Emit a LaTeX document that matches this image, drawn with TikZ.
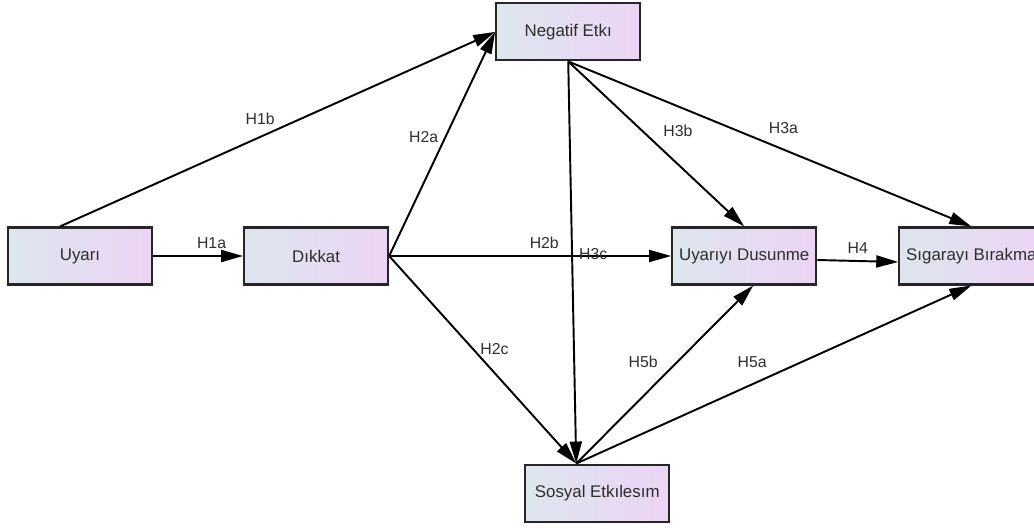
\documentclass[tikz,border=0pt]{standalone}
\usepackage{fontspec}
\setmainfont{Liberation Sans}
\usepackage{xcolor}
\usepackage{tikz}
\usetikzlibrary{arrows.meta, positioning, calc}

\definecolor{boxleft}{HTML}{DDE6EE}
\definecolor{boxright}{HTML}{ECD4F4}
\definecolor{boxtext}{HTML}{2E2E2E}

\begin{document}
\begin{tikzpicture}[node distance=1.8cm, auto, >={Triangle[length=4.4mm,width=2.4mm]}]
        \tikzstyle{var_style} = [rectangle, minimum width=2.88cm, minimum height=1.14cm, text centered, draw=black!85, line width=1.2pt, left color=boxleft, right color=boxright, text=boxtext, font=\fontsize{9.6}{11}\selectfont]
        \tikzstyle{path_arrow} = [line width=1.1pt, ->, draw=black]
        \tikzstyle{hyp_label} = [font=\fontsize{9}{10}\selectfont, text=boxtext, inner sep=3.5pt]

        % Canvas
        \useasboundingbox (0,0) rectangle (20.68,10.56);

        % Stimulus chain
        \node (uyari) [var_style] at (1.6,5.44) {Uyarı};
        \node (dikkat) [var_style, right=1.8cm of uyari] {Dıkkat};
        \node (uyariyi) [var_style, right=5.64cm of dikkat] {Uyarıyı Dusunme};
        \node (sigara) [var_style, right=1.62cm of uyariyi] {Sıgarayı Bırakma};

        % Mediators above and below
        \node (negatif) [var_style, above right=3.3cm and 2.12cm of dikkat] {Negatif Etkı};
        \node (sosyal) [var_style, below right=3.56cm and 2.7cm of dikkat] {Sosyal Etkılesım};

        % Connector end points
        \coordinate (uyari_top) at ([xshift=-0.4cm]uyari.north);
        \coordinate (sosyal_top) at ([xshift=-0.42cm]sosyal.north);

        % H1
        \draw [path_arrow] (uyari) -- node[hyp_label, pos=0.65, above] {H1a} (dikkat);
        \draw [path_arrow] (uyari_top) -- node[hyp_label, pos=0.46, above=3pt] {H1b} (negatif.west);

        % H2
        \draw [path_arrow] (dikkat.east) -- node[hyp_label, pos=0.53, left] {H2a} (negatif.west);
        \draw [path_arrow] (dikkat.east) -- node[hyp_label, pos=0.55, above] {H2b} (uyariyi.west);
        \draw [path_arrow] (dikkat.east) -- node[hyp_label, pos=0.45, right] {H2c} (sosyal_top);

        % H3
        \draw [path_arrow] (negatif.south) -- node[hyp_label, pos=0.48, above right] {H3a} (sigara.north);
        \draw [path_arrow] (negatif.south) -- node[hyp_label, pos=0.5, above right] {H3b} (uyariyi.north);
        \draw [path_arrow] (negatif.south) -- node[hyp_label, pos=0.48, right] {H3c} (sosyal_top);

        % H4
        \draw [path_arrow] ([yshift=-0.08cm]uyariyi.east) -- node[hyp_label, above] {H4} ([yshift=-0.12cm]sigara.west);

        % H5
        \draw [path_arrow] (sosyal_top) -- node[hyp_label, pos=0.5, above left] {H5a} (sigara.south);
        \draw [path_arrow] (sosyal_top) -- node[hyp_label, pos=0.5, above left] {H5b} ([xshift=0.18cm]uyariyi.south);
    \end{tikzpicture}
\end{document}
